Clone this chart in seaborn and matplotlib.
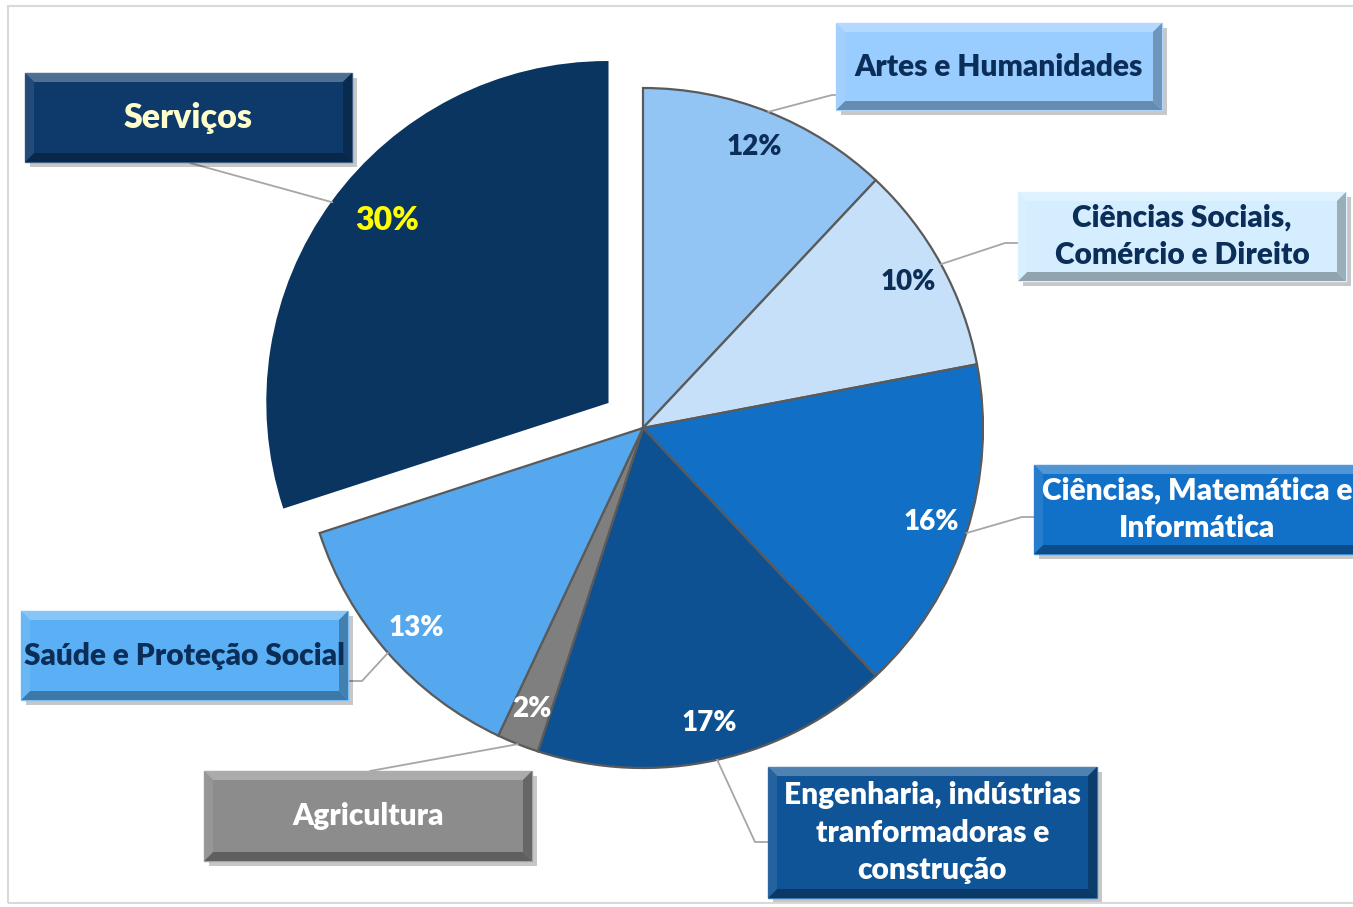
import numpy as np
import seaborn as sns
import matplotlib.pyplot as plt
from matplotlib.patches import Rectangle, Polygon
from matplotlib.colors import to_rgb

categories = ['Artes e Humanidades',
              'Ciências Sociais,\nComércio e Direito',
              'Ciências, Matemática e\nInformática',
              'Engenharia, indústrias\ntranformadoras e\nconstrução',
              'Agricultura',
              'Saúde e Proteção Social',
              'Serviços']
shares = [12, 10, 16, 17, 2, 13, 30]

slice_colors = ['#92C5F4', '#C5E0F8', '#1170C6', '#0E5192', '#7F7F7F', '#56A8EE', '#0A3560']
box_colors = ['#99CCFF', '#D4EEFF', '#1170C8', '#0F5496', '#8C8C8C', '#5BB0F5', '#0E3A6B']
label_colors = ['#0B2E59', '#0B2E59', 'white', 'white', 'white', '#0B2E59', '#FFFFCC']
pct_colors = ['#0B2E59', '#0B2E59', 'white', 'white', 'white', 'white', '#FFFF00']

W, H = 1353, 907

# label boxes (x, y, w, h) in picture pixels, top-left origin
boxes = [(836, 23, 326, 87), (1018, 192, 328, 89), (1034, 465, 330, 89),
         (768, 767, 329, 131), (204, 771, 328, 90), (21, 611, 327, 89), (25, 73, 327, 89)]
# leader line points after the pie edge point
leaders = [[(832, 95), (836, 95)], [(1005, 243), (1018, 243)], [(1022, 517), (1034, 517)],
           [(755, 842), (768, 842)], [(370, 771)], [(362, 681), (348, 681)], [(190, 163)]]


def Y(y):
    return H - y


def mix(c, other, t):
    c, o = np.array(to_rgb(c)), np.array(to_rgb(other))
    return tuple(c * (1 - t) + o * t)


def bevel_box(ax, x, y, w, h, color, b=9):
    ax.add_patch(Rectangle((x + 5, Y(y + h + 5)), w, h, color='#000000', alpha=0.22, lw=0, zorder=4))
    ax.add_patch(Rectangle((x, Y(y + h)), w, h, facecolor=color,
                           edgecolor=mix(color, 'white', 0.2), lw=1, zorder=5))
    x1, y1 = x + w, y + h
    bands = [
        ([(x, y), (x1, y), (x1 - b, y + b), (x + b, y + b)], mix(color, 'white', 0.3)),
        ([(x, y1), (x1, y1), (x1 - b, y1 - b), (x + b, y1 - b)], mix(color, 'black', 0.35)),
        ([(x, y), (x + b, y + b), (x + b, y1 - b), (x, y1)], mix(color, 'white', 0.1)),
        ([(x1, y), (x1 - b, y + b), (x1 - b, y1 - b), (x1, y1)], mix(color, 'black', 0.3)),
    ]
    for pts, c in bands:
        ax.add_patch(Polygon([(px, Y(py)) for px, py in pts], closed=True,
                             facecolor=c, lw=0, alpha=0.9, zorder=6))


sns.set_theme(style='white')
plt.rcParams['font.family'] = ['Lato', 'DejaVu Sans']

fig = plt.figure(figsize=(W / 100, H / 100), dpi=100)
ax = fig.add_axes([0, 0, 1, 1])

center = (643, Y(428))
radius = 340
explode = [0, 0, 0, 0, 0, 0, 44]

wedges, texts, autotexts = ax.pie(
    shares, colors=slice_colors, startangle=90, counterclock=False,
    center=center, radius=radius, explode=explode,
    autopct='%.0f%%', pctdistance=0.89,
    wedgeprops=dict(edgecolor='#5A5A5A', linewidth=1.6),
    textprops=dict(fontsize=20, fontweight='heavy'))
wedges[-1].set_edgecolor('#0A3560')

for t, c in zip(autotexts, pct_colors):
    t.set_color(c)

# the big slice keeps its percentage a little further in and larger
w = wedges[-1]
ang = np.deg2rad((w.theta1 + w.theta2) / 2 - 3.5)
autotexts[-1].set_position((w.center[0] + 0.84 * w.r * np.cos(ang),
                            w.center[1] + 0.84 * w.r * np.sin(ang)))
autotexts[-1].set_fontsize(23)

ax.set_xlim(0, W)
ax.set_ylim(0, H)
ax.set_aspect('equal')
ax.axis('off')

# leader lines and label boxes
for w, lab, box, pts, bc, tc in zip(wedges, categories, boxes, leaders, box_colors, label_colors):
    ang = np.deg2rad((w.theta1 + w.theta2) / 2)
    cx, cy = w.center
    ex, ey = cx + w.r * np.cos(ang), cy + w.r * np.sin(ang)
    xs = [ex] + [p[0] for p in pts]
    ys = [ey] + [Y(p[1]) for p in pts]
    ax.plot(xs, ys, color='#A6A6A6', lw=1.3, zorder=3)
    x, y, bw, bh = box
    bevel_box(ax, x, y, bw, bh, bc)
    tx = 1197 if x + bw > W else x + bw / 2
    size = 24.5 if lab == 'Serviços' else 21.5
    ax.text(tx, Y(y + bh / 2), lab, ha='center', va='center', color=tc,
            fontsize=size, fontweight='heavy', linespacing=1.4, zorder=7)

# chart border
fig.add_artist(Rectangle((8 / W, 0.004), 1.2, Y(6) / H - 0.004, transform=fig.transFigure,
                         fill=False, edgecolor='#D9D9D9', lw=1.5))

fig.savefig('out.png', dpi=100)
